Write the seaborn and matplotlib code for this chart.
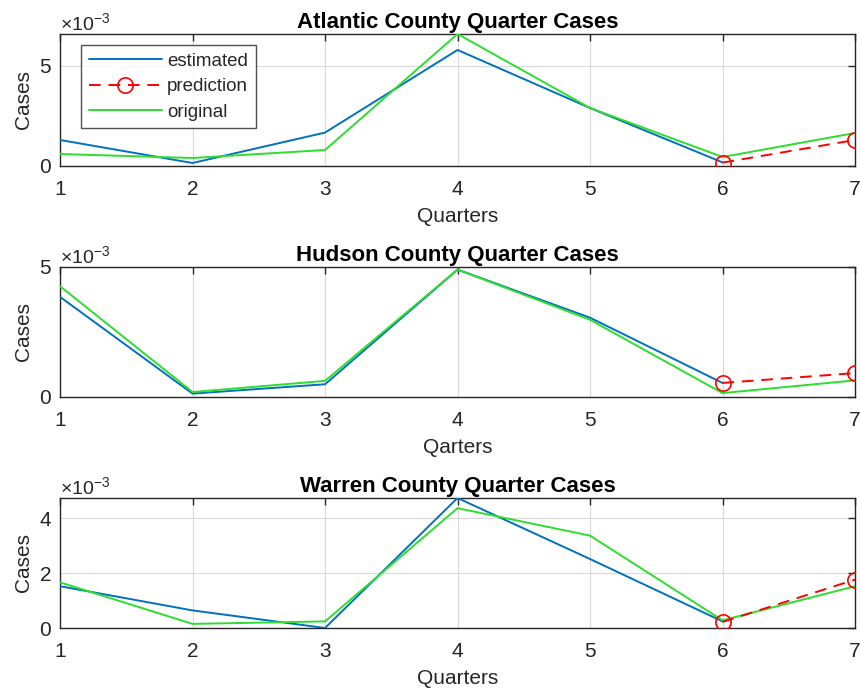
import numpy as np
import pandas as pd
import seaborn as sns
import matplotlib
matplotlib.use("Agg")
import matplotlib.pyplot as plt
from matplotlib.ticker import ScalarFormatter

sns.set_style("white")
plt.rcParams["font.family"] = ["Liberation Sans", "DejaVu Sans"]
plt.rcParams["mathtext.fontset"] = "custom"
plt.rcParams["mathtext.rm"] = "Liberation Sans"

quarters = [1, 2, 3, 4, 5, 6, 7]
pred_quarters = [6, 7]

titles = ["Atlantic County Quarter Cases",
          "Hudson County Quarter Cases",
          "Warren County Quarter Cases"]
xlabels = ["Quarters", "Qarters", "Quarters"]

# Atlantic County
atlantic_estimated = [1.30e-3, 0.15e-3, 1.67e-3, 5.80e-3, 2.90e-3, 0.18e-3]
atlantic_original = [0.60e-3, 0.40e-3, 0.80e-3, 6.60e-3, 2.90e-3, 0.45e-3, 1.65e-3]
atlantic_prediction = [0.17e-3, 1.30e-3]

# Hudson County
hudson_estimated = [3.85e-3, 0.13e-3, 0.49e-3, 4.90e-3, 3.05e-3, 0.54e-3]
hudson_original = [4.26e-3, 0.19e-3, 0.62e-3, 4.90e-3, 2.97e-3, 0.15e-3, 0.64e-3]
hudson_prediction = [0.54e-3, 0.92e-3]

# Warren County
warren_estimated = [1.52e-3, 0.64e-3, 0.00e-3, 4.73e-3, 2.51e-3, 0.24e-3]
warren_original = [1.66e-3, 0.15e-3, 0.24e-3, 4.36e-3, 3.36e-3, 0.28e-3, 1.52e-3]
warren_prediction = [0.22e-3, 1.76e-3]

estimated = [atlantic_estimated, hudson_estimated, warren_estimated]
original = [atlantic_original, hudson_original, warren_original]
prediction = [atlantic_prediction, hudson_prediction, warren_prediction]

y_limits = [(0, 6.6e-3), (0, 5.0e-3), (0, 4.73e-3)]
y_ticks = [[0, 5e-3], [0, 5e-3], [0, 2e-3, 4e-3]]

BLUE = "#0072BD"
RED = "#FF0000"
GREEN = "#2EDD2E"
TXT = "#262626"

fig = plt.figure(figsize=(8.6, 6.96), dpi=100)
positions = [
    [0.0698, 0.7615, 0.9244, 0.1897],
    [0.0698, 0.4296, 0.9244, 0.1868],
    [0.0698, 0.0977, 0.9244, 0.1868],
]

for i in range(3):
    ax = fig.add_axes(positions[i])
    est_df = pd.DataFrame({"q": quarters[:len(estimated[i])], "v": estimated[i]})
    org_df = pd.DataFrame({"q": quarters, "v": original[i]})
    pre_df = pd.DataFrame({"q": pred_quarters, "v": prediction[i]})

    sns.lineplot(data=est_df, x="q", y="v", ax=ax, color=BLUE, lw=1.4,
                 label="estimated", zorder=3)
    sns.lineplot(data=pre_df, x="q", y="v", ax=ax, color=RED, lw=1.4,
                 linestyle=(0, (6, 4)), marker="o", markersize=11,
                 markerfacecolor="none", markeredgecolor=RED,
                 markeredgewidth=1.2, label="prediction", zorder=4)
    sns.lineplot(data=org_df, x="q", y="v", ax=ax, color=GREEN, lw=1.4,
                 label="original", zorder=3)

    ax.set_xlim(1, 7)
    ax.set_ylim(*y_limits[i])
    ax.set_xticks(quarters)
    ax.set_yticks(y_ticks[i])

    fmt = ScalarFormatter(useMathText=True)
    fmt.set_powerlimits((-3, -3))
    ax.yaxis.set_major_formatter(fmt)
    ax.yaxis.get_offset_text().set_fontsize(14)
    ax.yaxis.get_offset_text().set_color(TXT)

    ax.grid(True, color="#d9d9d9", lw=0.8)
    ax.tick_params(axis="both", which="both", direction="in", top=True,
                   right=True, length=5, width=1, labelsize=15,
                   labelcolor=TXT, color=TXT)
    ax.tick_params(axis="x", pad=10)
    ax.tick_params(axis="y", pad=6)
    for s in ax.spines.values():
        s.set_color(TXT)
        s.set_linewidth(1.0)

    ax.set_title(titles[i], fontsize=16, fontweight="bold", color="black",
                 pad=4)
    ax.set_xlabel(xlabels[i], fontsize=15, color=TXT, labelpad=6)
    ax.set_ylabel("Cases", fontsize=15, color=TXT, labelpad=4)

    if i == 0:
        leg = ax.legend(loc="upper left", bbox_to_anchor=(0.0264, 0.917),
                        fontsize=13.5, frameon=True, fancybox=False,
                        edgecolor=TXT, handlelength=3.9, handletextpad=0.3,
                        borderpad=0.4, labelspacing=0.45, borderaxespad=0.0)
        leg.get_frame().set_linewidth(1.0)
    else:
        ax.get_legend().remove()

fig.savefig("out.png", dpi=100, facecolor="white")
